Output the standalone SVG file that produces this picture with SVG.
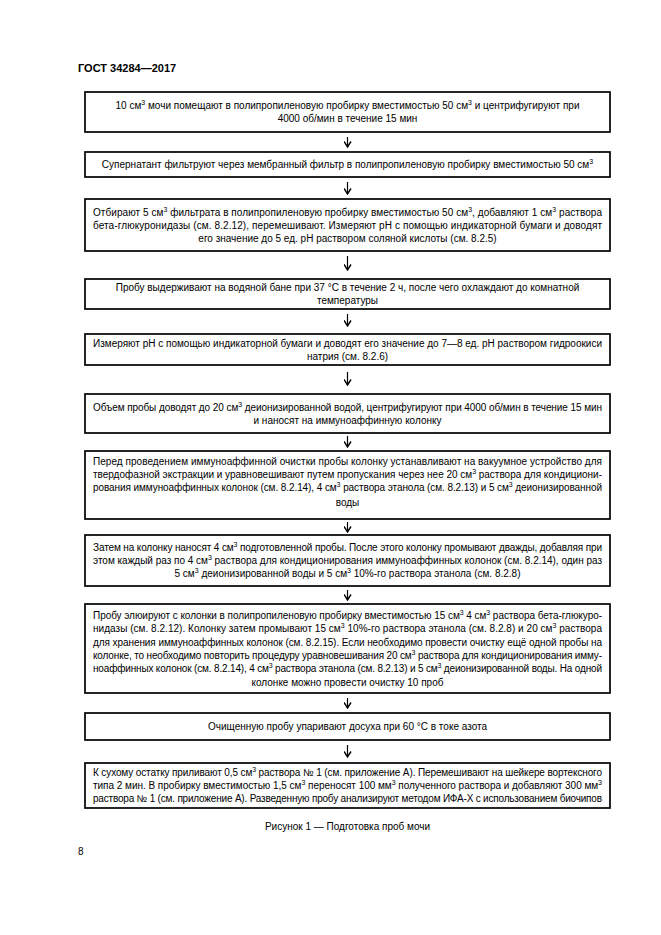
<svg xmlns="http://www.w3.org/2000/svg" width="661" height="935" viewBox="0 0 661 935">
<style>
text{font-family:"Liberation Sans",Arial,sans-serif;font-size:10px;fill:#000}
.c{text-anchor:middle}
.box rect{fill:#fff;stroke:#000;stroke-width:1.7}
.arr{stroke:#000;stroke-width:1.2;fill:none}
.hd{font-weight:bold;font-size:11px}
</style>
<defs>
<marker id="ah" markerWidth="8" markerHeight="8" refX="7" refY="4" orient="auto" markerUnits="userSpaceOnUse" viewBox="0 0 8 8">
<path d="M1.5,0.5 L7,4 L1.5,7.5" fill="none" stroke="#000" stroke-width="1.4"/>
</marker>
</defs>
<rect width="661" height="935" fill="#fff"/>
<text x="78" y="72" class="hd">ГОСТ 34284—2017</text>

<g id="n1" class="box"><rect x="85" y="92" width="525" height="40"/>
<text x="347.5" y="109" class="c">10 см<tspan dy="-4" font-size="7">3</tspan><tspan dy="4"> мочи помещают в полипропиленовую пробирку вместимостью 50 см</tspan><tspan dy="-4" font-size="7">3</tspan><tspan dy="4"> и центрифугируют при</tspan></text>
<text x="347.5" y="122" class="c">4000 об/мин в течение 15 мин</text></g>

<g id="n2" class="box"><rect x="85" y="152" width="525" height="25"/>
<text x="347.5" y="168" class="c">Супернатант фильтруют через мембранный фильтр в полипропиленовую пробирку вместимостью 50 см<tspan dy="-4" font-size="7">3</tspan></text></g>

<g id="n3" class="box"><rect x="85" y="199" width="525" height="52"/>
<text x="93" y="215.5" textLength="509" lengthAdjust="spacing">Отбирают 5 см<tspan dy="-4" font-size="7">3</tspan><tspan dy="4"> фильтрата в полипропиленовую пробирку вместимостью 50 см</tspan><tspan dy="-4" font-size="7">3</tspan><tspan dy="4">, добавляют 1 см</tspan><tspan dy="-4" font-size="7">3</tspan><tspan dy="4"> раствора</tspan></text>
<text x="93" y="228.5" textLength="509" lengthAdjust="spacing">бета-глюкуронидазы (см. 8.2.12), перемешивают. Измеряют pH с помощью индикаторной бумаги и доводят</text>
<text x="347.5" y="241.5" class="c">его значение до 5 ед. pH раствором соляной кислоты (см. 8.2.5)</text></g>

<g id="n4" class="box"><rect x="85" y="279" width="525" height="30"/>
<text x="347.5" y="291" class="c">Пробу выдерживают на водяной бане при 37 °С в течение 2 ч, после чего охлаждают до комнатной</text>
<text x="347.5" y="304" class="c">температуры</text></g>

<g id="n5" class="box"><rect x="85" y="334" width="525" height="31"/>
<text x="93" y="346.5" textLength="509" lengthAdjust="spacing">Измеряют pH с помощью индикаторной бумаги и доводят его значение до 7—8 ед. pH раствором гидроокиси</text>
<text x="347.5" y="359.5" class="c">натрия (см. 8.2.6)</text></g>

<g id="n6" class="box"><rect x="85" y="394" width="525" height="39"/>
<text x="93" y="410.5" textLength="509" lengthAdjust="spacing">Объем пробы доводят до 20 см<tspan dy="-4" font-size="7">3</tspan><tspan dy="4"> деионизированной водой, центрифугируют при 4000 об/мин в течение 15 мин</tspan></text>
<text x="347.5" y="423.5" class="c">и наносят на иммуноаффинную колонку</text></g>

<g id="n7" class="box"><rect x="85" y="451" width="525" height="68"/>
<text x="93" y="465" textLength="509" lengthAdjust="spacing">Перед проведением иммуноаффинной очистки пробы колонку устанавливают на вакуумное устройство для</text>
<text x="93" y="478" textLength="509" lengthAdjust="spacing">твердофазной экстракции и уравновешивают путем пропускания через нее 20 см<tspan dy="-4" font-size="7">3</tspan><tspan dy="4"> раствора для кондициони-</tspan></text>
<text x="93" y="491" textLength="509" lengthAdjust="spacing">рования иммуноаффинных колонок (см. 8.2.14), 4 см<tspan dy="-4" font-size="7">3</tspan><tspan dy="4"> раствора этанола (см. 8.2.13) и 5 см</tspan><tspan dy="-4" font-size="7">3</tspan><tspan dy="4"> деионизированной</tspan></text>
<text x="347.5" y="506" class="c">воды</text></g>

<g id="n8" class="box"><rect x="85" y="535" width="525" height="51"/>
<text x="93" y="551" textLength="509" lengthAdjust="spacing">Затем на колонку наносят 4 см<tspan dy="-4" font-size="7">3</tspan><tspan dy="4"> подготовленной пробы. После этого колонку промывают дважды, добавляя при</tspan></text>
<text x="93" y="564" textLength="509" lengthAdjust="spacing">этом каждый раз по 4 см<tspan dy="-4" font-size="7">3</tspan><tspan dy="4"> раствора для кондиционирования иммуноаффинных колонок (см. 8.2.14), один раз</tspan></text>
<text x="347.5" y="577" class="c">5 см<tspan dy="-4" font-size="7">3</tspan><tspan dy="4"> деионизированной воды и 5 см</tspan><tspan dy="-4" font-size="7">3</tspan><tspan dy="4"> 10%-го раствора этанола (см. 8.2.8)</tspan></text></g>

<g id="n9" class="box"><rect x="85" y="604" width="525" height="89"/>
<text x="93" y="619" textLength="509" lengthAdjust="spacing">Пробу элюируют с колонки в полипропиленовую пробирку вместимостью 15 см<tspan dy="-4" font-size="7">3</tspan><tspan dy="4"> 4 см</tspan><tspan dy="-4" font-size="7">3</tspan><tspan dy="4"> раствора бета-глюкуро-</tspan></text>
<text x="93" y="632.3" textLength="509" lengthAdjust="spacing">нидазы (см. 8.2.12). Колонку затем промывают 15 см<tspan dy="-4" font-size="7">3</tspan><tspan dy="4"> 10%-го раствора этанола (см. 8.2.8) и 20 см</tspan><tspan dy="-4" font-size="7">3</tspan><tspan dy="4"> раствора</tspan></text>
<text x="93" y="645.6" textLength="509" lengthAdjust="spacing">для хранения иммуноаффинных колонок (см. 8.2.15). Если необходимо провести очистку ещё одной пробы на</text>
<text x="93" y="658.9" textLength="509" lengthAdjust="spacing">колонке, то необходимо повторить процедуру уравновешивания 20 см<tspan dy="-4" font-size="7">3</tspan><tspan dy="4"> раствора для кондиционирования имму-</tspan></text>
<text x="93" y="672.2" textLength="509" lengthAdjust="spacing">ноаффинных колонок (см. 8.2.14), 4 см<tspan dy="-4" font-size="7">3</tspan><tspan dy="4"> раствора этанола (см. 8.2.13) и 5 см</tspan><tspan dy="-4" font-size="7">3</tspan><tspan dy="4"> деионизированной воды. На одной</tspan></text>
<text x="347.5" y="685.5" class="c">колонке можно провести очистку 10 проб</text></g>

<g id="n10" class="box"><rect x="85" y="713" width="525" height="27"/>
<text x="347.5" y="730" class="c">Очищенную пробу упаривают досуха при 60 °С в токе азота</text></g>

<g id="n11" class="box"><rect x="85" y="763" width="525" height="45"/>
<text x="93" y="776" textLength="509" lengthAdjust="spacing">К сухому остатку приливают 0,5 см<tspan dy="-4" font-size="7">3</tspan><tspan dy="4"> раствора № 1 (см. приложение А). Перемешивают на шейкере вортексного</tspan></text>
<text x="93" y="789" textLength="509" lengthAdjust="spacing">типа 2 мин. В пробирку вместимостью 1,5 см<tspan dy="-4" font-size="7">3</tspan><tspan dy="4"> переносят 100 мм</tspan><tspan dy="-4" font-size="7">3</tspan><tspan dy="4"> полученного раствора и добавляют 300 мм</tspan><tspan dy="-4" font-size="7">3</tspan></text>
<text x="93" y="802" textLength="509" lengthAdjust="spacing">раствора № 1 (см. приложение А). Разведенную пробу анализируют методом ИФА-Х с использованием биочипов</text></g>

<g id="connectors">
<line class="arr" x1="347.5" y1="137" x2="347.5" y2="147" marker-end="url(#ah)"/>
<line class="arr" x1="347.5" y1="182" x2="347.5" y2="194" marker-end="url(#ah)"/>
<line class="arr" x1="347.5" y1="256" x2="347.5" y2="270" marker-end="url(#ah)"/>
<line class="arr" x1="347.5" y1="314" x2="347.5" y2="326" marker-end="url(#ah)"/>
<line class="arr" x1="347.5" y1="372" x2="347.5" y2="385" marker-end="url(#ah)"/>
<line class="arr" x1="347.5" y1="436" x2="347.5" y2="447" marker-end="url(#ah)"/>
<line class="arr" x1="347.5" y1="522" x2="347.5" y2="532" marker-end="url(#ah)"/>
<line class="arr" x1="347.5" y1="590" x2="347.5" y2="600" marker-end="url(#ah)"/>
<line class="arr" x1="347.5" y1="698" x2="347.5" y2="708" marker-end="url(#ah)"/>
<line class="arr" x1="347.5" y1="745" x2="347.5" y2="757" marker-end="url(#ah)"/>
</g>

<text x="347.5" y="830" class="c">Рисунок 1 — Подготовка проб мочи</text>
<text x="78" y="855">8</text>
</svg>
